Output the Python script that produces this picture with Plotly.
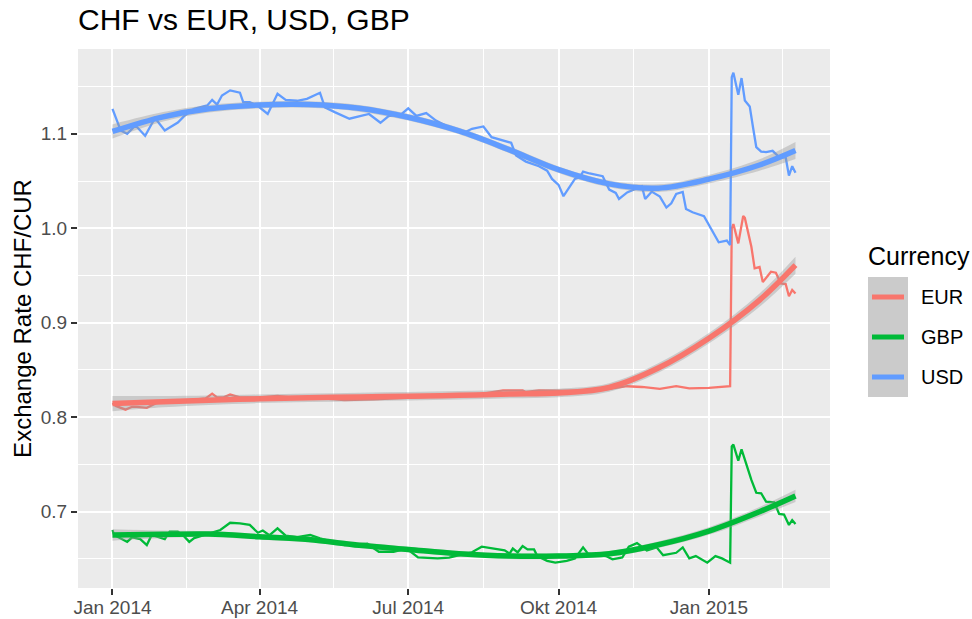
import plotly.graph_objects as go

# ---------------- data ----------------
usd = [
    ("2014-01-01", 1.1265), ("2014-01-06", 1.1035), ("2014-01-10", 1.100), ("2014-01-15", 1.109),
    ("2014-01-21", 1.098), ("2014-01-27", 1.1167), ("2014-02-02", 1.1035), ("2014-02-10", 1.112),
    ("2014-02-14", 1.119), ("2014-02-20", 1.1265), ("2014-02-28", 1.130), ("2014-03-03", 1.136),
    ("2014-03-06", 1.131), ("2014-03-09", 1.1406), ("2014-03-14", 1.146), ("2014-03-20", 1.1435),
    ("2014-03-22", 1.1336), ("2014-03-26", 1.1336), ("2014-03-31", 1.1294), ("2014-04-06", 1.121),
    ("2014-04-12", 1.1424), ("2014-04-17", 1.136), ("2014-04-24", 1.135), ("2014-04-30", 1.137),
    ("2014-05-08", 1.1435), ("2014-05-11", 1.128), ("2014-05-17", 1.123), ("2014-05-26", 1.116),
    ("2014-06-07", 1.121), ("2014-06-14", 1.1117), ("2014-06-19", 1.1188), ("2014-06-27", 1.121),
    ("2014-07-01", 1.127), ("2014-07-06", 1.119), ("2014-07-12", 1.122), ("2014-07-18", 1.114),
    ("2014-07-26", 1.107), ("2014-08-01", 1.1035), ("2014-08-05", 1.1018), ("2014-08-09", 1.1053),
    ("2014-08-16", 1.1078), ("2014-08-21", 1.0965), ("2014-08-28", 1.093), ("2014-09-02", 1.0905),
    ("2014-09-05", 1.077), ("2014-09-11", 1.0706), ("2014-09-19", 1.0657), ("2014-09-24", 1.061),
    ("2014-09-27", 1.0523), ("2014-10-01", 1.046), ("2014-10-04", 1.034), ("2014-10-08", 1.045),
    ("2014-10-11", 1.0523), ("2014-10-14", 1.054), ("2014-10-16", 1.060), ("2014-10-20", 1.058),
    ("2014-10-28", 1.0551), ("2014-11-01", 1.041), ("2014-11-05", 1.0374), ("2014-11-07", 1.031),
    ("2014-11-12", 1.038), ("2014-11-21", 1.0445), ("2014-11-23", 1.031), ("2014-11-27", 1.0388),
    ("2014-12-02", 1.0335), ("2014-12-06", 1.022), ("2014-12-09", 1.0265), ("2014-12-12", 1.0364),
    ("2014-12-16", 1.0385), ("2014-12-18", 1.0205), ("2014-12-22", 1.017), ("2014-12-29", 1.0128),
    ("2015-01-02", 1.001), ("2015-01-07", 0.9852), ("2015-01-12", 0.987), ("2015-01-14", 0.9822),
    ("2015-01-15", 1.160), ("2015-01-16", 1.1647), ("2015-01-19", 1.1413), ("2015-01-21", 1.159),
    ("2015-01-23", 1.1353), ("2015-01-26", 1.129), ("2015-01-28", 1.107), ("2015-01-30", 1.086),
    ("2015-02-02", 1.0812), ("2015-02-05", 1.0806), ("2015-02-09", 1.082), ("2015-02-13", 1.0753),
    ("2015-02-17", 1.075), ("2015-02-19", 1.0558), ("2015-02-21", 1.0657), ("2015-02-23", 1.0587),
]

eur = [
    ("2014-01-01", 0.815), ("2014-01-03", 0.812), ("2014-01-09", 0.808), ("2014-01-13", 0.811),
    ("2014-01-16", 0.811), ("2014-01-22", 0.810), ("2014-01-28", 0.815), ("2014-02-05", 0.818),
    ("2014-02-12", 0.817), ("2014-02-20", 0.819), ("2014-02-27", 0.820), ("2014-03-03", 0.825),
    ("2014-03-06", 0.821), ("2014-03-10", 0.821), ("2014-03-14", 0.824), ("2014-03-20", 0.821),
    ("2014-04-01", 0.821), ("2014-04-12", 0.8225), ("2014-04-20", 0.821), ("2014-05-01", 0.821),
    ("2014-05-23", 0.818), ("2014-06-10", 0.819), ("2014-07-02", 0.821), ("2014-07-20", 0.822),
    ("2014-08-01", 0.824), ("2014-08-14", 0.8245), ("2014-08-28", 0.8285), ("2014-09-09", 0.8285),
    ("2014-09-11", 0.8267), ("2014-09-19", 0.8285), ("2014-10-01", 0.828), ("2014-10-18", 0.8285),
    ("2014-11-01", 0.830), ("2014-11-12", 0.8328), ("2014-11-21", 0.832), ("2014-12-02", 0.830),
    ("2014-12-12", 0.8328), ("2014-12-20", 0.8305), ("2015-01-01", 0.831), ("2015-01-07", 0.8315),
    ("2015-01-14", 0.8328), ("2015-01-15", 1.000), ("2015-01-16", 1.0045), ("2015-01-19", 0.984),
    ("2015-01-21", 1.005), ("2015-01-22", 1.013), ("2015-01-23", 1.011), ("2015-01-27", 0.9805),
    ("2015-01-29", 0.9576), ("2015-02-01", 0.959), ("2015-02-03", 0.943), ("2015-02-08", 0.954),
    ("2015-02-11", 0.953), ("2015-02-14", 0.9417), ("2015-02-17", 0.941), ("2015-02-19", 0.928),
    ("2015-02-21", 0.9346), ("2015-02-23", 0.931),
]

gbp = [
    ("2014-01-01", 0.6806), ("2014-01-02", 0.6753), ("2014-01-10", 0.668), ("2014-01-13", 0.6728),
    ("2014-01-18", 0.671), ("2014-01-22", 0.6647), ("2014-01-25", 0.6753), ("2014-02-02", 0.671),
    ("2014-02-05", 0.6788), ("2014-02-10", 0.6788), ("2014-02-14", 0.6735), ("2014-02-17", 0.668),
    ("2014-02-20", 0.672), ("2014-03-02", 0.6777), ("2014-03-08", 0.6806), ("2014-03-14", 0.6883),
    ("2014-03-20", 0.6877), ("2014-03-26", 0.686), ("2014-03-31", 0.6777), ("2014-04-03", 0.680),
    ("2014-04-07", 0.675), ("2014-04-12", 0.6824), ("2014-04-17", 0.6746), ("2014-04-24", 0.673),
    ("2014-05-02", 0.6753), ("2014-05-08", 0.6717), ("2014-05-23", 0.6647), ("2014-06-06", 0.666),
    ("2014-06-13", 0.6576), ("2014-06-22", 0.6576), ("2014-06-30", 0.661), ("2014-07-07", 0.6516),
    ("2014-07-19", 0.6505), ("2014-07-26", 0.6513), ("2014-08-01", 0.654), ("2014-08-09", 0.657),
    ("2014-08-15", 0.663), ("2014-08-24", 0.660), ("2014-08-29", 0.659), ("2014-09-01", 0.6556),
    ("2014-09-03", 0.661), ("2014-09-06", 0.657), ("2014-09-09", 0.6636), ("2014-09-12", 0.660),
    ("2014-09-16", 0.660), ("2014-09-18", 0.653), ("2014-09-24", 0.648), ("2014-09-29", 0.646),
    ("2014-10-06", 0.648), ("2014-10-11", 0.6505), ("2014-10-16", 0.6622), ("2014-10-19", 0.6555),
    ("2014-10-30", 0.653), ("2014-11-03", 0.6495), ("2014-11-09", 0.6515), ("2014-11-13", 0.663),
    ("2014-11-18", 0.6667), ("2014-11-24", 0.659), ("2014-11-30", 0.6622), ("2014-12-04", 0.654),
    ("2014-12-12", 0.6565), ("2014-12-16", 0.6622), ("2014-12-20", 0.6505), ("2014-12-24", 0.653),
    ("2014-12-31", 0.646), ("2015-01-05", 0.653), ("2015-01-09", 0.6505), ("2015-01-14", 0.646),
    ("2015-01-15", 0.769), ("2015-01-16", 0.771), ("2015-01-19", 0.754), ("2015-01-21", 0.766),
    ("2015-01-23", 0.755), ("2015-01-27", 0.7336), ("2015-01-30", 0.720), ("2015-02-02", 0.7195),
    ("2015-02-05", 0.7106), ("2015-02-10", 0.710), ("2015-02-13", 0.6976), ("2015-02-16", 0.697),
    ("2015-02-19", 0.686), ("2015-02-21", 0.691), ("2015-02-23", 0.687),
]

# loess fits and half-width of the grey bands
fit_dates = ["2014-01-01", "2014-02-01", "2014-03-01", "2014-04-01", "2014-05-01",
             "2014-06-01", "2014-07-01", "2014-08-01", "2014-09-01", "2014-10-01",
             "2014-11-01", "2014-12-01", "2015-01-01", "2015-02-01", "2015-02-23"]
usd_fit = [1.1025, 1.118, 1.1265, 1.1305, 1.131, 1.127, 1.1175, 1.103, 1.083, 1.062,
           1.047, 1.0425, 1.052, 1.067, 1.0823]
eur_fit = [0.8144, 0.8165, 0.818, 0.8195, 0.8205, 0.8215, 0.8222, 0.8232, 0.8245, 0.8257,
           0.8315, 0.852, 0.8836, 0.924, 0.961]
gbp_fit = [0.6753, 0.676, 0.6763, 0.6735, 0.6705, 0.6645, 0.660, 0.6555, 0.653, 0.653,
           0.6555, 0.665, 0.6795, 0.700, 0.7167]
usd_se = [0.0075, 0.005, 0.004, 0.0035, 0.0035, 0.0035, 0.0035, 0.0035, 0.0035, 0.0035,
          0.0035, 0.004, 0.0045, 0.006, 0.009]
eur_se = [0.008, 0.006, 0.005, 0.0045, 0.0045, 0.0045, 0.0045, 0.0045, 0.0045, 0.0045,
          0.0045, 0.005, 0.0055, 0.007, 0.009]
gbp_se = [0.006, 0.004, 0.003, 0.003, 0.003, 0.003, 0.003, 0.003, 0.003, 0.003,
          0.003, 0.0035, 0.004, 0.005, 0.0065]

currencies = ["EUR", "GBP", "USD"]
colors = {"EUR": "#F8766D", "GBP": "#00BA38", "USD": "#619CFF"}

x_tick_vals = ["2014-01-01", "2014-04-01", "2014-07-01", "2014-10-01", "2015-01-01"]
x_tick_text = ["Jan 2014", "Apr 2014", "Jul 2014", "Okt 2014", "Jan 2015"]
x_minor_vals = ["2014-02-15", "2014-05-16 12:00", "2014-08-16", "2014-11-16", "2015-02-15"]
y_tick_vals = [0.7, 0.8, 0.9, 1.0, 1.1]
y_tick_text = ["0.7", "0.8", "0.9", "1.0", "1.1"]
y_minor_vals = [0.65, 0.75, 0.85, 0.95, 1.05, 1.15]

raw = {"EUR": eur, "GBP": gbp, "USD": usd}
fits = {"EUR": (eur_fit, eur_se), "GBP": (gbp_fit, gbp_se), "USD": (usd_fit, usd_se)}

# ---------------- figure ----------------
W, H = 972, 619
PL, PR, PT, PB = 78, 830, 49, 588
FONT = "Liberation Sans, Arial, Helvetica, sans-serif"


def px_x(px):
    return (px - PL) / (PR - PL)


def px_y(py):
    return (PB - py) / (PB - PT)


fig = go.Figure()

for c in currencies:
    d, v = zip(*raw[c])
    fig.add_trace(go.Scatter(x=list(d), y=list(v), mode="lines",
                             line=dict(color=colors[c], width=2.3),
                             showlegend=False, hoverinfo="skip"))

for c in currencies:
    f, se = fits[c]
    lo = [a - b for a, b in zip(f, se)]
    hi = [a + b for a, b in zip(f, se)]
    fig.add_trace(go.Scatter(x=fit_dates, y=lo, mode="lines",
                             line=dict(width=0, shape="spline"),
                             showlegend=False, hoverinfo="skip"))
    fig.add_trace(go.Scatter(x=fit_dates, y=hi, mode="lines", fill="tonexty",
                             fillcolor="rgba(153,153,153,0.4)",
                             line=dict(width=0, shape="spline"),
                             showlegend=False, hoverinfo="skip"))
    fig.add_trace(go.Scatter(x=fit_dates, y=f, mode="lines",
                             line=dict(color=colors[c], width=5.5, shape="spline"),
                             name=c, showlegend=False, hoverinfo="skip"))

fig.update_layout(
    width=W, height=H, autosize=False,
    margin=dict(l=PL, r=W - PR, t=PT, b=H - PB, pad=0),
    paper_bgcolor="white", plot_bgcolor="#EBEBEB",
    font=dict(family=FONT, color="black"),
    title=dict(text="CHF vs EUR, USD, GBP", font=dict(size=30, color="black"),
               x=PL / W, xanchor="left", xref="container",
               y=1 - 19 / H, yanchor="middle", yref="container"),
    showlegend=False,
)

fig.update_xaxes(
    type="date", range=["2013-12-10 21:30", "2015-03-16 03:00"],
    tickmode="array", tickvals=x_tick_vals, ticktext=x_tick_text,
    tickfont=dict(size=19, color="#4D4D4D"), ticklabelstandoff=-4,
    ticks="outside", ticklen=6, tickwidth=1.6, tickcolor="#333333",
    showgrid=True, gridcolor="white", gridwidth=2.2,
    minor=dict(tickmode="array", tickvals=x_minor_vals, showgrid=True,
               gridcolor="white", gridwidth=1.1, ticks=""),
    zeroline=False, showline=False, automargin=False,
)
fig.update_yaxes(
    range=[0.6192, 1.1898],
    tickmode="array", tickvals=y_tick_vals, ticktext=y_tick_text,
    tickfont=dict(size=19, color="#4D4D4D"),
    ticks="outside", ticklen=6, tickwidth=1.6, tickcolor="#333333",
    showgrid=True, gridcolor="white", gridwidth=2.2,
    minor=dict(tickmode="array", tickvals=y_minor_vals, showgrid=True,
               gridcolor="white", gridwidth=1.1, ticks=""),
    zeroline=False, showline=False, automargin=False,
    title=dict(text="Exchange Rate CHF/CUR", font=dict(size=24, color="black"), standoff=2),
)

# legend (ggplot style: title, grey keys with line, labels)
fig.add_shape(type="rect", xref="paper", yref="paper",
              x0=px_x(868), x1=px_x(908), y0=px_y(397), y1=px_y(277),
              fillcolor="#CBCBCB", line=dict(width=0), layer="above")
fig.add_annotation(xref="paper", yref="paper", x=px_x(866), y=px_y(256),
                   text="Currency", showarrow=False, xanchor="left", yanchor="middle",
                   font=dict(size=25, color="black"))
for i, c in enumerate(currencies):
    cy = 297 + 40 * i
    fig.add_shape(type="line", xref="paper", yref="paper",
                  x0=px_x(872), x1=px_x(904), y0=px_y(cy), y1=px_y(cy),
                  line=dict(color=colors[c], width=5), layer="above")
    fig.add_annotation(xref="paper", yref="paper", x=px_x(919), y=px_y(cy),
                       text=c, showarrow=False, xanchor="left", yanchor="middle",
                       font=dict(size=20, color="black"))

fig.write_html("out.html",
               config={"displayModeBar": False},
               post_script="document.body.style.margin='0px';"
                           "document.body.style.overflow='hidden';")
